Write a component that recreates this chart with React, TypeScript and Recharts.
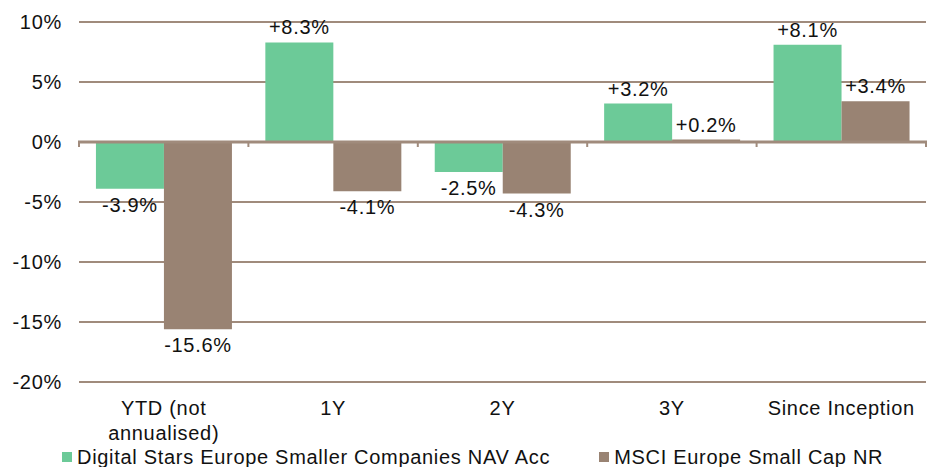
import { BarChart, Bar, XAxis, YAxis, CartesianGrid, ReferenceLine, LabelList } from 'recharts'

const categories = ['YTD (not\nannualised)', '1Y', '2Y', '3Y', 'Since Inception']
const fundValues = [-3.9, 8.3, -2.5, 3.2, 8.1]
const indexValues = [-15.6, -4.1, -4.3, 0.2, 3.4]
const yTicks = [-20, -15, -10, -5, 0, 5, 10]

const fundName = 'Digital Stars Europe Smaller Companies NAV Acc'
const indexName = 'MSCI Europe Small Cap NR'

const GREEN = '#6cca98'
const BROWN = '#998373'
const GRID = '#a08b7c'
const FONT = '"Liberation Sans", Arial, sans-serif'

const data = categories.map((name, i) => ({
  name,
  fund: fundValues[i],
  index: indexValues[i],
}))

const textStyle = { fontFamily: FONT, fontSize: 20, letterSpacing: 0.7, fill: '#111' }

const fmt = (v: number) => (v > 0 ? `+${v.toFixed(1)}%` : `${v.toFixed(1)}%`)

function ValueLabel(props: any) {
  const vb = props.viewBox ?? props
  const { x, y, width, height } = vb
  const value = Number(props.value)
  const top = Math.min(y, y + height)
  const bottom = Math.max(y, y + height)
  const cx = x + width / 2
  const ty = value >= 0 ? top - 8 : bottom + 23
  return (
    <text x={cx} y={ty} textAnchor="middle" style={textStyle}>
      {fmt(value)}
    </text>
  )
}

function CategoryTick(props: any) {
  const { x, y, payload } = props
  const lines = String(payload.value).split('\n')
  return (
    <text x={x} y={y} textAnchor="middle" style={textStyle}>
      {lines.map((line, i) => (
        <tspan key={i} x={x} y={y + 31 + i * 25}>
          {line}
        </tspan>
      ))}
    </text>
  )
}

// zero line drawn over the bars, with short ticks at the category boundaries
function ZeroAxis(props: any) {
  const { x1, y1, x2 } = props
  const step = (x2 - x1) / categories.length
  return (
    <g>
      <line x1={x1 - 1} y1={y1} x2={x2 + 1} y2={y1} stroke={GRID} strokeWidth={3} />
      {categories.concat(['']).map((_, i) => (
        <line key={i} x1={x1 + i * step} y1={y1} x2={x1 + i * step} y2={y1 + 5} stroke={GRID} strokeWidth={2} />
      ))}
    </g>
  )
}

export default function App() {
  return (
    <div style={{ position: 'absolute', left: 0, top: 0, width: 937, height: 467, background: '#fff', overflow: 'hidden' }}>
      <BarChart
        width={937}
        height={467}
        data={data}
        margin={{ top: 22, right: 11, bottom: 0, left: 0 }}
        barCategoryGap="10%"
        barGap={0}
      >
        <CartesianGrid vertical={false} stroke={GRID} strokeWidth={2} />
        <XAxis
          dataKey="name"
          height={85}
          axisLine={false}
          tickLine={false}
          tickSize={0}
          tick={<CategoryTick />}
          interval={0}
        />
        <YAxis
          width={79}
          domain={[-20, 10]}
          ticks={yTicks}
          axisLine={false}
          tickLine={false}
          tickSize={0}
          tickMargin={17}
          tickFormatter={(v: number) => `${v}%`}
          tick={{ ...textStyle }}
        />
        <Bar dataKey="fund" name={fundName} fill={GREEN} isAnimationActive={false}>
          <LabelList dataKey="fund" content={ValueLabel} />
        </Bar>
        <Bar dataKey="index" name={indexName} fill={BROWN} isAnimationActive={false}>
          <LabelList dataKey="index" content={ValueLabel} />
        </Bar>
        <ReferenceLine y={0} shape={ZeroAxis} />
      </BarChart>
      <div
        style={{
          position: 'absolute',
          left: 0,
          top: 444,
          display: 'flex',
          alignItems: 'center',
          fontFamily: FONT,
          fontSize: 20,
          letterSpacing: 0.7,
          color: '#111',
          whiteSpace: 'nowrap',
          lineHeight: '26px',
        }}
      >
        {[
          { name: fundName, color: GREEN, ml: 62 },
          { name: indexName, color: BROWN, ml: 49 },
        ].map((item) => (
          <div key={item.name} style={{ display: 'flex', alignItems: 'center', marginLeft: item.ml }}>
            <span style={{ display: 'inline-block', width: 10, height: 10, background: item.color, marginRight: 5 }} />
            <span>{item.name}</span>
          </div>
        ))}
      </div>
    </div>
  )
}
